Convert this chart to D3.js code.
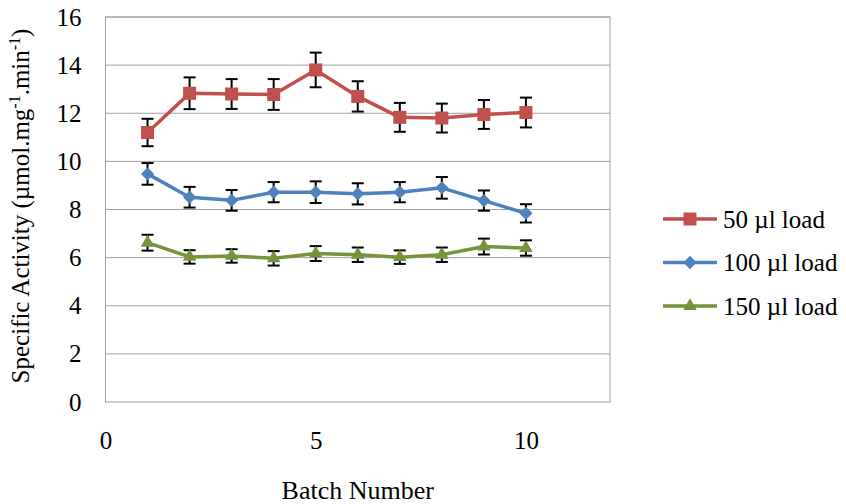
<!DOCTYPE html>
<html>
<head>
<meta charset="utf-8">
<script src="https://cdn.jsdelivr.net/npm/d3@7"></script>
<style>
  html, body { margin: 0; padding: 0; background: #fff; }
  svg { display: block; font-family: "Liberation Serif", "Times New Roman", serif; }
</style>
</head>
<body>
<svg id="chart" width="846" height="504"></svg>
<script>
// Specific activity per batch, three load volumes
const batches = [1, 2, 3, 4, 5, 6, 7, 8, 9, 10];
const load50 = [11.2, 12.83, 12.8, 12.78, 13.8, 12.7, 11.83, 11.8, 11.95, 12.03];
const err50 = [0.57, 0.66, 0.62, 0.64, 0.72, 0.63, 0.6, 0.6, 0.6, 0.62];
const load100 = [9.48, 8.51, 8.38, 8.72, 8.72, 8.65, 8.72, 8.9, 8.37, 7.84];
const err100 = [0.45, 0.43, 0.43, 0.42, 0.45, 0.44, 0.42, 0.45, 0.42, 0.38];
const load150 = [6.62, 6.03, 6.07, 5.97, 6.17, 6.12, 6.02, 6.12, 6.46, 6.4];
const err150 = [0.33, 0.28, 0.28, 0.3, 0.31, 0.3, 0.28, 0.3, 0.33, 0.32];
const seriesNames = ['50 µl load', '100 µl load', '150 µl load'];
const xTicks = [0, 5, 10];
const yTicks = [0, 2, 4, 6, 8, 10, 12, 14, 16];

const series = [
    { name: seriesNames[0], values: load50, errs: err50, color: '#C0504D', marker: 'square' },
    { name: seriesNames[1], values: load100, errs: err100, color: '#4F81BD', marker: 'diamond' },
    { name: seriesNames[2], values: load150, errs: err150, color: '#77933C', marker: 'triangle' }
];

const svg = d3.select('#chart');
const m = { left: 105.5, right: 610, top: 17, bottom: 402 };

const x = d3.scaleLinear().domain([0, 12]).range([m.left, m.right]);
const y = d3.scaleLinear().domain([0, 16]).range([m.bottom, m.top]);

// Grid
svg.append('g').selectAll('line')
    .data(yTicks.slice(1))
    .enter()
    .append('line')
    .attr('x1', m.left).attr('x2', m.right)
    .attr('y1', d => y(d)).attr('y2', d => y(d))
    .attr('stroke', '#A0A0A0')
    .attr('stroke-width', 1);

// Plot border
svg.append('rect')
    .attr('x', m.left).attr('y', m.top)
    .attr('width', m.right - m.left).attr('height', m.bottom - m.top)
    .attr('fill', 'none')
    .attr('stroke', '#A0A0A0')
    .attr('stroke-width', 1);

// Axes (labels only, Excel style)
const yAxis = svg.append('g')
    .attr('transform', `translate(${m.left},0)`)
    .call(d3.axisLeft(y).tickValues(yTicks).tickSize(0).tickPadding(24));
const xAxis = svg.append('g')
    .attr('transform', `translate(0,${m.bottom})`)
    .call(d3.axisBottom(x).tickValues(xTicks).tickSize(0).tickPadding(29));
[yAxis, xAxis].forEach(a => {
    a.select('.domain').remove();
    a.selectAll('text')
        .attr('font-family', '"Liberation Serif", serif')
        .attr('font-size', '25px')
        .attr('fill', '#000');
});

function markerPath(type) {
    if (type === 'square') return d3.symbol().type(d3.symbolSquare).size(169)();
    if (type === 'diamond') return d3.symbol().type(d3.symbolSquare).size(88)();
    return d3.symbol().type(d3.symbolTriangle).size(80)();
}

function drawMarker(g, type, cx, cy, color) {
    g.append('path')
        .attr('d', markerPath(type))
        .attr('transform', `translate(${cx},${cy})` + (type === 'diamond' ? ' rotate(45)' : ''))
        .attr('fill', color);
}

const line = d3.line()
    .x((d, i) => x(batches[i]))
    .y(d => y(d));

series.forEach(s => {
    const g = svg.append('g');

    // Line
    g.append('path').datum(s.values)
        .attr('d', line)
        .attr('fill', 'none')
        .attr('stroke', s.color)
        .attr('stroke-width', 3.5)
        .attr('stroke-linejoin', 'round');

    // Error bars
    s.values.forEach((v, i) => {
        const cx = x(batches[i]);
        const top = y(v + s.errs[i]), bot = y(v - s.errs[i]);
        g.append('line')
            .attr('x1', cx).attr('x2', cx)
            .attr('y1', top).attr('y2', bot)
            .attr('stroke', '#000').attr('stroke-width', 2);
        [top, bot].forEach(yy => {
            g.append('line')
                .attr('x1', cx - 6).attr('x2', cx + 6)
                .attr('y1', yy).attr('y2', yy)
                .attr('stroke', '#000').attr('stroke-width', 2);
        });
    });

    // Markers
    s.values.forEach((v, i) => drawMarker(g, s.marker, x(batches[i]), y(v), s.color));
});

// Legend
const legend = svg.append('g');
series.forEach((s, i) => {
    const ly = 219 + i * 43.5;
    legend.append('line')
        .attr('x1', 663).attr('x2', 717)
        .attr('y1', ly).attr('y2', ly)
        .attr('stroke', s.color).attr('stroke-width', 3.5);
    drawMarker(legend, s.marker, 690, ly, s.color);
    legend.append('text')
        .attr('x', 723).attr('y', ly + 8.5)
        .attr('font-size', '25px')
        .attr('fill', '#000')
        .text(s.name);
});

// Axis titles
svg.append('text')
    .attr('x', (m.left + m.right) / 2)
    .attr('y', 499)
    .attr('text-anchor', 'middle')
    .attr('font-size', '26px')
    .text('Batch Number');

const yt = svg.append('text')
    .attr('transform', 'translate(29,206) rotate(-90)')
    .attr('text-anchor', 'middle')
    .attr('font-size', '25px');
yt.append('tspan').text('Specific Activity (µmol.mg');
yt.append('tspan').attr('font-size', '16px').attr('dy', -9).text('-1');
yt.append('tspan').attr('dy', 9).text('.min');
yt.append('tspan').attr('font-size', '16px').attr('dy', -9).text('-1');
yt.append('tspan').attr('dy', 9).text(')');
</script>
</body>
</html>
